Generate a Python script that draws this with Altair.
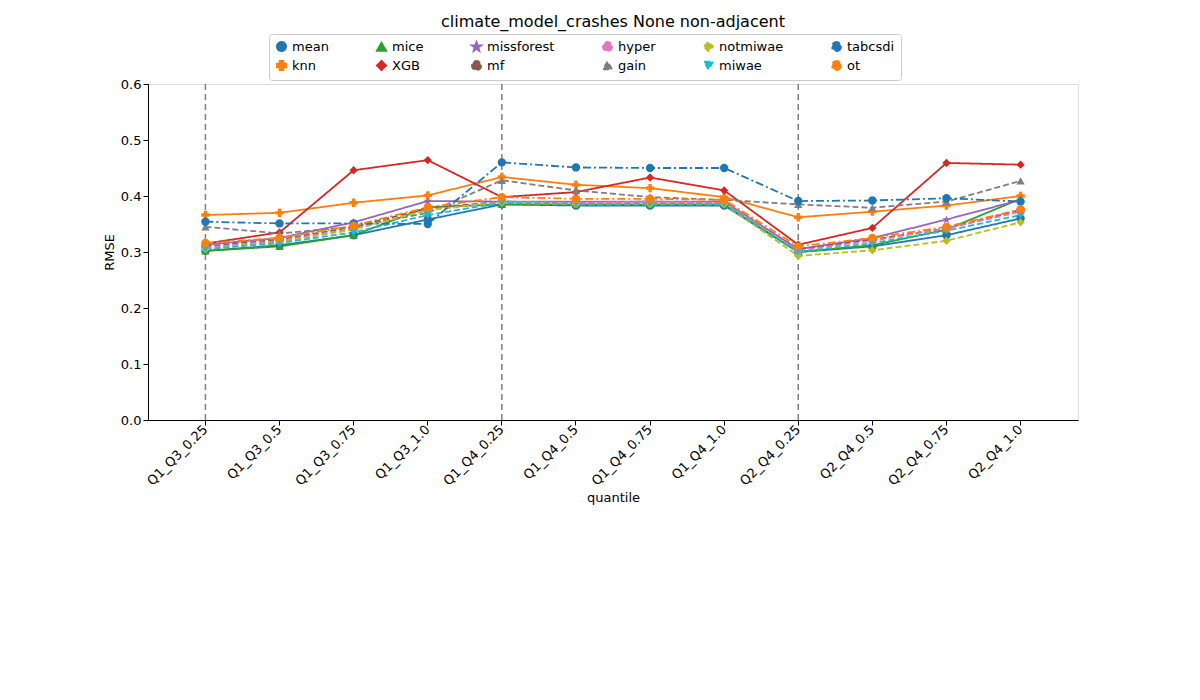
import altair as alt
import pandas as pd

quantiles = ["Q1_Q3_0.25","Q1_Q3_0.5","Q1_Q3_0.75","Q1_Q3_1.0","Q1_Q4_0.25","Q1_Q4_0.5",
             "Q1_Q4_0.75","Q1_Q4_1.0","Q2_Q4_0.25","Q2_Q4_0.5","Q2_Q4_0.75","Q2_Q4_1.0"]
mean_v = [0.302,0.312,0.330,0.358,0.385,0.383,0.383,0.383,0.300,0.310,0.330,0.360]
knn_v = [0.366,0.370,0.388,0.401,0.434,0.420,0.414,0.398,0.362,0.372,0.383,0.400]
mice_v = [0.302,0.310,0.330,0.380,0.385,0.385,0.385,0.385,0.300,0.312,0.340,0.395]
xgb_v = [0.315,0.335,0.446,0.464,0.398,0.407,0.433,0.410,0.313,0.343,0.459,0.456]
missforest_v = [0.313,0.325,0.353,0.391,0.390,0.390,0.390,0.390,0.305,0.325,0.358,0.393]
mf_v = [0.310,0.322,0.345,0.378,0.390,0.388,0.390,0.388,0.305,0.322,0.342,0.375]
hyper_v = [0.308,0.320,0.342,0.375,0.390,0.388,0.390,0.388,0.303,0.320,0.342,0.372]
gain_v = [0.345,0.333,0.345,0.370,0.428,0.410,0.398,0.393,0.385,0.379,0.390,0.427]
notmiwae_v = [0.305,0.318,0.340,0.375,0.388,0.385,0.385,0.385,0.293,0.303,0.320,0.353]
miwae_v = [0.305,0.316,0.335,0.366,0.388,0.386,0.386,0.386,0.300,0.316,0.338,0.366]
tabcsdi_v = [0.354,0.351,0.351,0.350,0.460,0.451,0.450,0.450,0.391,0.392,0.396,0.390]
ot_v = [0.316,0.325,0.347,0.380,0.398,0.395,0.395,0.393,0.310,0.325,0.345,0.376]

series = {"mean": mean_v, "knn": knn_v, "mice": mice_v, "XGB": xgb_v, "missforest": missforest_v,
          "mf": mf_v, "hyper": hyper_v, "gain": gain_v, "notmiwae": notmiwae_v, "miwae": miwae_v,
          "tabcsdi": tabcsdi_v, "ot": ot_v}
colors = {"mean":"#1f77b4","knn":"#ff7f0e","mice":"#2ca02c","XGB":"#d62728","missforest":"#9467bd",
          "mf":"#8c564b","hyper":"#e377c2","gain":"#7f7f7f","notmiwae":"#bcbd22","miwae":"#17becf",
          "tabcsdi":"#1f77b4","ot":"#ff7f0e"}
shapes = {"mean":"circle","knn":"cross","mice":"triangle-up","XGB":"diamond","missforest":"M0,-1L0.25,-0.3L1,-0.3L0.4,0.15L0.6,0.9L0,0.45L-0.6,0.9L-0.4,0.15L-1,-0.3L-0.25,-0.3Z",
          "mf":"circle","hyper":"circle","gain":"triangle-up","notmiwae":"diamond","miwae":"triangle-down",
          "tabcsdi":"circle","ot":"circle"}
dashes = {"mean":[1,0],"knn":[1,0],"mice":[1,0],"XGB":[1,0],"missforest":[1,0],"mf":[6,3],"hyper":[6,3],
          "gain":[6,3],"notmiwae":[6,3],"miwae":[6,3],"tabcsdi":[8,3,2,3],"ot":[8,3,2,3]}
legend_order = list(series.keys())
boundaries = ["Q1_Q3_0.25","Q1_Q4_0.25","Q2_Q4_0.25"]

rows = []
for name, vals in series.items():
    for q, v in zip(quantiles, vals):
        rows.append({"method": name, "quantile": q, "RMSE": v})
df = pd.DataFrame(rows)

xscale = alt.Scale(domain=quantiles, padding=0.55)
x = alt.X("quantile:N", sort=quantiles, scale=xscale,
          axis=alt.Axis(labelAngle=-45, labelAlign="right", labelFontSize=13, titleFontSize=13,
                        titleFontWeight="normal", grid=False, ticks=True, domainColor="black", tickColor="black",
                        labelColor="black"))
y = alt.Y("RMSE:Q", scale=alt.Scale(domain=[0, 0.6]),
          axis=alt.Axis(values=[0,0.1,0.2,0.3,0.4,0.5,0.6], format=".1f", grid=False, labelFontSize=13,
                        titleFontSize=13, titleFontWeight="normal", domainColor="black", tickColor="black",
                        labelColor="black"))
legend = alt.Legend(title=None, orient="none", legendX=121, legendY=-50, columns=6, labelFontSize=13,
                    symbolStrokeWidth=2, symbolSize=80, strokeColor="#cccccc", padding=6, cornerRadius=3,
                    columnPadding=44, rowPadding=2)
cscale = alt.Scale(domain=legend_order, range=[colors[m] for m in legend_order])
color = alt.Color("method:N", scale=cscale, legend=legend)
dash = alt.StrokeDash("method:N", scale=alt.Scale(domain=legend_order, range=[dashes[m] for m in legend_order]),
                      legend=legend)
shape = alt.Shape("method:N", scale=alt.Scale(domain=legend_order, range=[shapes[m] for m in legend_order]),
                  legend=legend)

rules = alt.Chart(pd.DataFrame({"quantile": boundaries})).mark_rule(
    color="gray", strokeDash=[6, 4], strokeWidth=1.5).encode(x=alt.X("quantile:N", sort=quantiles, scale=xscale))
lines = alt.Chart(df).mark_line(strokeWidth=1.8).encode(x=x, y=y, color=color, strokeDash=dash)
points = alt.Chart(df).mark_point(filled=True, size=70, opacity=1).encode(
    x=x, y=y, color=color, shape=shape)

chart = alt.layer(rules, lines, points).properties(
    width=930, height=336,
    title=alt.Title("climate_model_crashes None non-adjacent", fontSize=16, fontWeight="normal", offset=4),
    padding={"left": 95, "top": 5, "right": 5, "bottom": 5},
).configure_view(stroke="black").configure(font="DejaVu Sans")

chart.save("out.html", embed_options={"renderer": "svg", "actions": False})
